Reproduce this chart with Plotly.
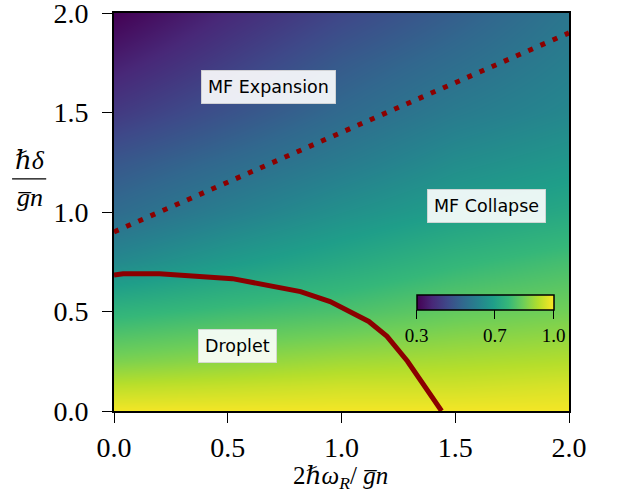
import plotly.graph_objects as go

# heatmap sample grid
grid_x = [0.0, 0.5, 1.0, 1.5, 2.0]
grid_y = [0.0, 0.125, 0.25, 0.5, 0.75, 1.0, 1.25, 1.5, 1.75, 2.0]
grid_z = [
    [0.99, 0.99, 0.99, 0.99, 0.99],
    [0.93, 0.94, 0.95, 0.95, 0.96],
    [0.86, 0.88, 0.90, 0.91, 0.92],
    [0.755, 0.78, 0.80, 0.83, 0.85],
    [0.63, 0.68, 0.72, 0.76, 0.79],
    [0.545, 0.60, 0.65, 0.69, 0.72],
    [0.49, 0.54, 0.59, 0.64, 0.67],
    [0.42, 0.48, 0.54, 0.59, 0.625],
    [0.36, 0.43, 0.50, 0.55, 0.60],
    [0.30, 0.38, 0.45, 0.51, 0.575],
]

# dotted boundary (MF expansion / collapse)
dotted_x = [0.0, 2.0]
dotted_y = [0.9, 1.9]

# droplet boundary
curve_x = [0.0, 0.04, 0.2, 0.52, 0.82, 0.95, 1.12, 1.2, 1.29, 1.40, 1.44]
curve_y = [0.683, 0.69, 0.69, 0.665, 0.60, 0.55, 0.45, 0.375, 0.25, 0.065, 0.0]

labels = ["MF Expansion", "MF Collapse", "Droplet"]
label_x = [0.677, 1.637, 0.543]
label_y = [1.626, 1.03, 0.327]

cbar_ticks = [0.3, 0.7, 1.0]

serif = "Liberation Serif, DejaVu Serif, serif"
sans = "DejaVu Sans, sans-serif"
red = "#8b0000"

fig = go.Figure()
fig.add_trace(go.Heatmap(
    x=grid_x, y=grid_y, z=grid_z, zmin=0.3, zmax=1.0,
    colorscale="Viridis", zsmooth="best",
    colorbar=dict(
        orientation="h", x=0.665, xanchor="left", y=0.291, yanchor="top",
        len=0.3, lenmode="fraction", thickness=15, xpad=0, ypad=0,
        outlinecolor="black", outlinewidth=1.5,
        tickvals=cbar_ticks, ticktext=[f"{t:.1f}" for t in cbar_ticks],
        ticks="outside", ticklen=9, tickwidth=1.2, tickcolor="black",
        tickfont=dict(family=serif, size=19, color="black"),
    ),
    hoverinfo="skip",
))
fig.add_trace(go.Scatter(
    x=dotted_x, y=dotted_y, mode="lines",
    line=dict(color=red, width=5, dash="5px,8.3px"), showlegend=False,
))
fig.add_trace(go.Scatter(
    x=curve_x, y=curve_y, mode="lines",
    line=dict(color=red, width=5), showlegend=False,
))

for t, lx, ly in zip(labels, label_x, label_y):
    fig.add_annotation(
        x=lx, y=ly, text=t, showarrow=False,
        font=dict(family=sans, size=17.5, color="black"),
        bgcolor="rgba(255,255,255,0.9)", bordercolor="rgba(215,215,215,0.9)",
        borderwidth=1, borderpad=6,
    )

# y-axis label as fraction
fig.add_annotation(xref="paper", yref="paper", x=-0.185, y=0.589,
                   text="<i>ℏδ</i>", showarrow=False, xanchor="center", yanchor="bottom",
                   font=dict(family=serif, size=26, color="black"))
fig.add_annotation(xref="paper", yref="paper", x=-0.185, y=0.579,
                   text="<i>g̅n</i>", showarrow=False, xanchor="center", yanchor="top",
                   font=dict(family=serif, size=26, color="black"))
fig.add_shape(type="line", xref="paper", yref="paper", x0=-0.224, x1=-0.149,
              y0=0.583, y1=0.583, line=dict(color="black", width=1.3))

# x-axis label
fig.add_annotation(xref="paper", yref="paper", x=0.497, y=-0.166,
                   text="2<i>ℏω</i><sub><i>R</i></sub>/ <i>g̅n</i>", showarrow=False,
                   xanchor="center", yanchor="middle",
                   font=dict(family=serif, size=25, color="black"))

axis_common = dict(
    range=[0, 2], showline=True, linecolor="black", linewidth=2, mirror=True,
    ticks="outside", ticklen=10, tickwidth=1.3, tickcolor="black",
    tickvals=[0, 0.5, 1.0, 1.5, 2.0], ticktext=["0.0", "0.5", "1.0", "1.5", "2.0"],
    tickfont=dict(family=serif, size=28, color="black"),
    showgrid=False, zeroline=False, automargin=False,
)
fig.update_xaxes(**axis_common)
fig.update_yaxes(**axis_common, ticklabelstandoff=8, ticklabeloverflow="allow")

fig.update_layout(
    width=618, height=494, margin=dict(l=114, r=49, t=13, b=83, autoexpand=False),
    paper_bgcolor="white", plot_bgcolor="white", showlegend=False,
)
fig.write_html("out.html")
